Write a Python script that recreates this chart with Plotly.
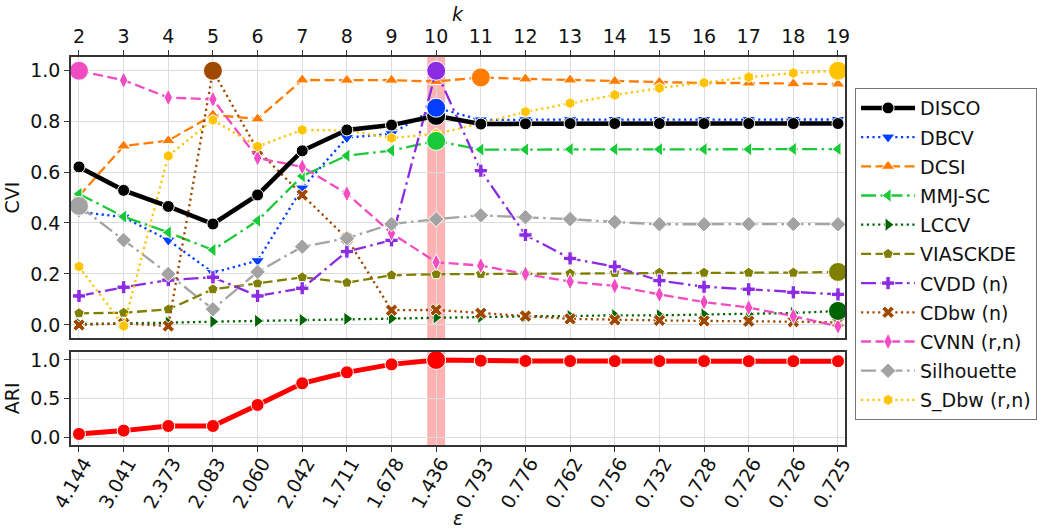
import plotly.graph_objects as go

# Number of clusters k and the matching epsilon thresholds
k_values = [2, 3, 4, 5, 6, 7, 8, 9, 10, 11, 12, 13, 14, 15, 16, 17, 18, 19]
eps_labels = ["4.144", "3.041", "2.373", "2.083", "2.060", "2.042", "1.711", "1.678",
              "1.436", "0.793", "0.776", "0.762", "0.756", "0.732", "0.728", "0.726",
              "0.726", "0.725"]

# Cluster validity indices (normalised)
disco = [0.62, 0.528, 0.465, 0.396, 0.51, 0.683, 0.765, 0.784, 0.82, 0.788, 0.789,
         0.79, 0.79, 0.79, 0.79, 0.79, 0.79, 0.79]
dbcv = [0.444, 0.423, 0.333, 0.205, 0.252, 0.537, 0.735, 0.75, 0.852, 0.804, 0.805,
        0.805, 0.806, 0.806, 0.806, 0.806, 0.806, 0.806]
dcsi = [0.506, 0.702, 0.723, 0.824, 0.808, 0.961, 0.96, 0.96, 0.955, 0.971, 0.965,
        0.961, 0.956, 0.952, 0.949, 0.949, 0.946, 0.945]
mmj_sc = [0.514, 0.425, 0.363, 0.294, 0.409, 0.584, 0.664, 0.684, 0.722, 0.688, 0.688,
          0.689, 0.689, 0.689, 0.689, 0.689, 0.69, 0.69]
lccv = [0.004, 0.006, 0.009, 0.013, 0.016, 0.02, 0.024, 0.026, 0.03, 0.032, 0.034,
        0.035, 0.038, 0.038, 0.041, 0.042, 0.047, 0.055]
viasckde = [0.046, 0.048, 0.061, 0.14, 0.163, 0.187, 0.166, 0.195, 0.199, 0.2, 0.202,
            0.202, 0.204, 0.205, 0.205, 0.205, 0.205, 0.208]
cvdd = [0.114, 0.148, 0.176, 0.187, 0.114, 0.144, 0.288, 0.332, 0.997, 0.605, 0.353,
        0.261, 0.229, 0.174, 0.15, 0.14, 0.128, 0.12]
cdbw = [0.0, 0.006, -0.004, 0.997, 0.686, 0.51, 0.34, 0.058, 0.059, 0.046, 0.035,
        0.024, 0.02, 0.018, 0.016, 0.015, 0.013, 0.01]
cvnn = [0.997, 0.96, 0.892, 0.885, 0.655, 0.62, 0.515, 0.36, 0.246, 0.233, 0.2,
        0.17, 0.153, 0.12, 0.09, 0.068, 0.035, -0.005]
silhouette = [0.467, 0.333, 0.2, 0.062, 0.208, 0.307, 0.34, 0.396, 0.415, 0.43, 0.423,
              0.415, 0.404, 0.395, 0.395, 0.396, 0.396, 0.395]
s_dbw = [0.229, -0.004, 0.663, 0.804, 0.7, 0.765, 0.763, 0.733, 0.75, 0.79, 0.836,
         0.87, 0.902, 0.929, 0.95, 0.972, 0.988, 0.997]

# Adjusted Rand index against ground truth
ari = [0.043, 0.086, 0.146, 0.146, 0.418, 0.698, 0.84, 0.943, 1.0, 0.99, 0.987,
       0.986, 0.985, 0.985, 0.985, 0.984, 0.984, 0.984]

best_k = 10

FONT = "DejaVu Sans"
FS = 19

# name, values, color, dash, marker symbol, marker size, line width
series = [
    ("DISCO", disco, "#000000", "solid", "circle", 12, 4.5),
    ("DBCV", dbcv, "#023eff", "2.2px,3.5px", "triangle-down", 12, 2.3),
    ("DCSI", dcsi, "#ff7c00", "10px,4.5px", "triangle-up", 12, 2.3),
    ("MMJ-SC", mmj_sc, "#1ac938", "15px,4.5px,2.5px,4.5px", "triangle-left", 12, 2.3),
    ("LCCV", lccv, "#006400", "2.2px,3.5px", "triangle-right", 12, 2.3),
    ("VIASCKDE", viasckde, "#808000", "10px,4.5px", "pentagon", 11, 2.3),
    ("CVDD (n)", cvdd, "#8b2be2", "15px,4.5px,2.5px,4.5px", "cross", 11, 2.3),
    ("CDbw (n)", cdbw, "#9f4800", "2.2px,3.5px", "x", 11, 2.3),
    ("CVNN (r,n)", cvnn, "#f14cc1", "10px,4.5px", "diamond-tall", 12, 2.3),
    ("Silhouette", silhouette, "#a3a3a3", "15px,4.5px,2.5px,4.5px", "diamond", 12, 2.3),
    ("S_Dbw (r,n)", s_dbw, "#ffc400", "2.2px,3.5px", "hexagon", 11, 2.3),
]
names = [s[0] for s in series]

fig = go.Figure()

# DISCO is drawn last so it sits above the other curves
draw_order = series[1:] + series[:1]
for name, vals, color, dash, symbol, msize, lw in draw_order:
    fig.add_trace(go.Scatter(
        x=k_values, y=vals, mode="lines+markers", name=name,
        legendgroup=name, legendrank=names.index(name) + 1,
        line=dict(color=color, width=lw, dash=dash),
        marker=dict(symbol=symbol, size=msize, color=color,
                    line=dict(color="white", width=1)),
        xaxis="x", yaxis="y",
    ))

# Highlight each index's best value with a large dot
for name, vals, color, dash, symbol, msize, lw in series:
    i = max(range(len(vals)), key=lambda j: vals[j])
    fig.add_trace(go.Scatter(
        x=[k_values[i]], y=[vals[i]], mode="markers", showlegend=False,
        marker=dict(symbol="circle", size=19, color=color,
                    line=dict(color="white", width=1)),
        xaxis="x", yaxis="y", hoverinfo="skip",
    ))

fig.add_trace(go.Scatter(
    x=k_values, y=ari, mode="lines+markers", showlegend=False,
    line=dict(color="#ff0000", width=5),
    marker=dict(symbol="circle", size=13, color="#ff0000", line=dict(color="white", width=1)),
    xaxis="x2", yaxis="y2",
))
ia = max(range(len(ari)), key=lambda j: ari[j])
fig.add_trace(go.Scatter(
    x=[k_values[ia]], y=[ari[ia]], mode="markers", showlegend=False,
    marker=dict(symbol="circle", size=19, color="#ff0000", line=dict(color="white", width=1)),
    xaxis="x2", yaxis="y2", hoverinfo="skip",
))

# Band marking the selected clustering
for xref, yref in (("x", "y domain"), ("x2", "y2 domain")):
    fig.add_shape(type="rect", xref=xref, yref=yref, x0=best_k - 0.2, x1=best_k + 0.2,
                  y0=0, y1=1, fillcolor="rgba(255,0,0,0.3)", line=dict(width=0),
                  layer="below")

xrange = [1.821, 19.157]
axis_common = dict(
    showgrid=True, gridcolor="#dcdcdc", gridwidth=1,
    showline=True, linecolor="#333333", linewidth=1.6, mirror=True,
    ticks="outside", ticklen=5, tickwidth=1.2, tickcolor="#333333",
    tickfont=dict(family=FONT, size=FS, color="#111111"), zeroline=False,
)

fig.update_layout(
    width=1040, height=531,
    margin=dict(l=71, r=195, t=57, b=86, autoexpand=False),
    plot_bgcolor="white", paper_bgcolor="white",
    font=dict(family=FONT, size=FS, color="#111111"),
    xaxis=dict(axis_common, domain=[0, 1], range=xrange, side="top", anchor="y",
               tickmode="array", tickvals=k_values, ticktext=[str(v) for v in k_values]),
    yaxis=dict(axis_common, domain=[0.2758, 1], range=[-0.051, 1.051], anchor="x",
               tickmode="array", tickvals=[0, 0.2, 0.4, 0.6, 0.8, 1.0],
               ticktext=["0.0", "0.2", "0.4", "0.6", "0.8", "1.0"],
               title=dict(text="CVI", font=dict(family=FONT, size=FS), standoff=6)),
    xaxis2=dict(axis_common, domain=[0, 1], range=xrange, side="bottom", anchor="y2",
                tickmode="array", tickvals=k_values, ticktext=eps_labels, tickangle=-60,
                ticklabelstandoff=-7, ticklabelshift=5),
    yaxis2=dict(axis_common, domain=[0, 0.2405], range=[-0.1, 1.107], anchor="x2",
                tickmode="array", tickvals=[0, 0.5, 1.0], ticktext=["0.0", "0.5", "1.0"],
                title=dict(text="ARI", font=dict(family=FONT, size=FS), standoff=6)),
    legend=dict(x=1.013, y=0.92, xanchor="left", yanchor="top",
                bgcolor="white", bordercolor="#777777", borderwidth=1,
                font=dict(family=FONT, size=FS), tracegroupgap=1.5,
                itemwidth=54),
    showlegend=True,
)

fig.add_annotation(text="<i>k</i>", xref="paper", yref="paper", x=0.5, y=1.111,
                   showarrow=False, font=dict(family=FONT, size=FS), yanchor="middle")
fig.add_annotation(text="<i>ε</i>", xref="paper", yref="paper", x=0.5, y=-0.188,
                   showarrow=False, font=dict(family=FONT, size=FS), yanchor="middle")

fig.write_html("out.html")
